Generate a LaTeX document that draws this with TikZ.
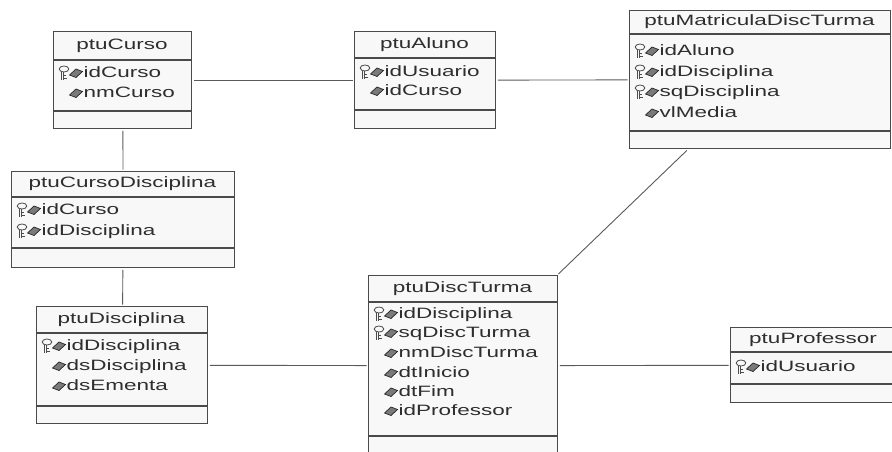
\documentclass[tikz,border=0pt]{standalone}
\usepackage{fontspec}
\setmainfont{Liberation Sans}[FakeStretch=1.5]
\definecolor{boxfill}{HTML}{F8F8F8}
\definecolor{boxline}{HTML}{4A4A4A}
\definecolor{connline}{HTML}{5A5A5A}
\definecolor{diafill}{HTML}{7A7A7A}
\tikzset{
  umlbox/.style={draw=boxline, fill=boxfill, line width=1.4pt, rectangle, inner sep=0pt, anchor=north west},
  sepline/.style={draw=boxline, line width=1.2pt},
  conn/.style={draw=connline, line width=0.9pt, shorten >=1.5pt, shorten <=1.5pt},
  titletext/.style={inner sep=0pt, anchor=center, font=\fontsize{15}{18}\selectfont, text=black!82},
  attrtext/.style={inner sep=0pt, anchor=base west, font=\fontsize{15}{18}\selectfont, text=black!82},
  keyline/.style={draw=black!70, line width=0.8pt},
  dia/.style={fill=diafill, draw=black!85, line width=0.7pt}
}
\newcommand\keyicon[2]{%
  \draw[keyline] ({#1+11},{#2-3}) ellipse (4.8pt and 3pt);
  \draw[keyline] ({#1+8.5},{#2}) -- ({#1+8.5},{#2+7.5});
  \draw[keyline] ({#1+10.5},{#2}) -- ({#1+10.5},{#2+7.5});
  \draw[keyline] ({#1+10.5},{#2+3.5}) -- ({#1+13},{#2+3.5});
  \draw[keyline] ({#1+10.5},{#2+6.5}) -- ({#1+13.5},{#2+6.5});
}
\newcommand\diaicon[2]{%
  \draw[dia] ({#1+16.5},{#2+3}) -- ({#1+23},{#2-3}) -- ({#1+29.5},{#2-0.5}) -- ({#1+23},{#2+5.5}) -- cycle;
}
\newcommand\pkrow[4]{\keyicon{#1}{#2}\diaicon{#1}{#2}\node[attrtext] (#3) at ({#1+30.5},{#2+5.3}) {#4};}
\newcommand\atrow[4]{\diaicon{#1}{#2}\node[attrtext] (#3) at ({#1+30.5},{#2+5.3}) {#4};}
\begin{document}
\begin{tikzpicture}[x=1pt,y=-1pt]
\useasboundingbox (0,0) rectangle (892,451);
\clip (0,0) rectangle (892,451);
\fill[white] (0,0) rectangle (892,451);

% boxes
\node[umlbox, minimum width=138pt, minimum height=97pt] (curso) at (53,31) {};
\node[umlbox, minimum width=141pt, minimum height=97pt] (aluno) at (354,31) {};
\node[umlbox, minimum width=261pt, minimum height=138pt] (matr) at (629,10) {};
\node[umlbox, minimum width=223pt, minimum height=96pt] (cdisc) at (11,171) {};
\node[umlbox, minimum width=171pt, minimum height=117pt] (disc) at (36,306) {};
\node[umlbox, minimum width=189pt, minimum height=180pt] (dturma) at (368,275) {};
\node[umlbox, minimum width=166pt, minimum height=75pt] (prof) at (730,327) {};

% connectors
\draw[conn] (curso) -- (aluno);
\draw[conn] (aluno) -- (matr);
\draw[conn] (curso) -- (cdisc);
\draw[conn] (cdisc) -- (disc);
\draw[conn] (disc) -- (dturma);
\draw[conn] (dturma) -- (prof);
\draw[conn] (matr) -- (dturma);

% separators
\draw[sepline] (53,60) -- (191,60);   \draw[sepline] (53,111) -- (191,111);
\draw[sepline] (354,58) -- (495,58);  \draw[sepline] (354,110) -- (495,110);
\draw[sepline] (629,34) -- (890,34);  \draw[sepline] (629,131) -- (890,131);
\draw[sepline] (11,197) -- (234,197); \draw[sepline] (11,248) -- (234,248);
\draw[sepline] (36,333) -- (207,333); \draw[sepline] (36,406) -- (207,406);
\draw[sepline] (368,302) -- (557,302);\draw[sepline] (368,436) -- (557,436);
\draw[sepline] (730,352) -- (896,352);\draw[sepline] (730,384) -- (896,384);

% titles
\node[titletext] (tcurso) at (122,45.5) {ptuCurso};
\node[titletext] (taluno) at (424.5,44.5) {ptuAluno};
\node[titletext] (tmatr) at (759.5,22) {ptuMatriculaDiscTurma};
\node[titletext] (tcdisc) at (122.5,184) {ptuCursoDisciplina};
\node[titletext] (tdisc) at (121.5,319.5) {ptuDisciplina};
\node[titletext] (tdturma) at (462.5,288.5) {ptuDiscTurma};
\node[titletext] (tprof) at (813,339.5) {ptuProfessor};

% attributes
\pkrow{53}{72}{c1}{idCurso}
\atrow{53}{92}{c2}{nmCurso}

\pkrow{354}{71}{a1}{idUsuario}
\atrow{354}{90}{a2}{idCurso}

\pkrow{629}{50}{m1}{idAluno}
\pkrow{629}{71}{m2}{idDisciplina}
\pkrow{629}{91}{m3}{sqDisciplina}
\atrow{629}{112}{m4}{vlMedia}

\pkrow{11}{209}{cd1}{idCurso}
\pkrow{11}{230}{cd2}{idDisciplina}

\pkrow{36}{345}{d1}{idDisciplina}
\atrow{36}{365}{d2}{dsDisciplina}
\atrow{36}{385}{d3}{dsEmenta}

\pkrow{368}{313}{t1}{idDisciplina}
\pkrow{368}{332}{t2}{sqDiscTurma}
\atrow{368}{352}{t3}{nmDiscTurma}
\atrow{368}{372}{t4}{dtInicio}
\atrow{368}{391}{t5}{dtFim}
\atrow{368}{410}{t6}{idProfessor}

\pkrow{730}{366}{p1}{idUsuario}
\end{tikzpicture}
\end{document}
